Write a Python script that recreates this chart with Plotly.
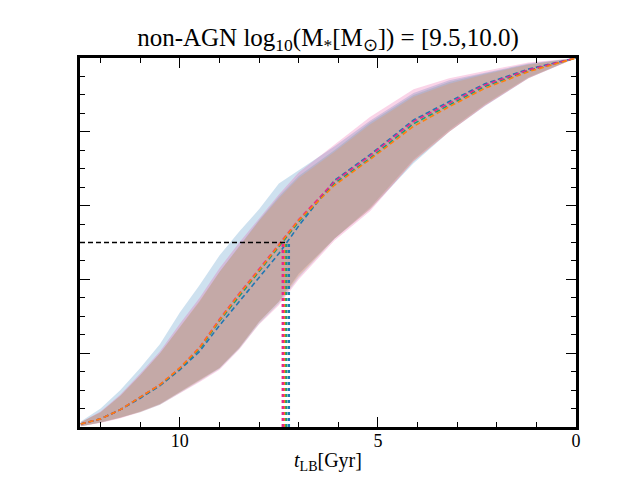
import plotly.graph_objects as go

# lookback time grid [Gyr]
t_lb = [12.5, 12.0, 11.5, 11.0, 10.5, 10.0, 9.5, 9.0, 8.5, 8.0, 7.5, 7.0, 6.1, 5.2, 4.1, 3.2, 2.3, 1.2, 0.0]

# median cumulative mass fraction per sample
med_blue = [0.008, 0.022, 0.047, 0.078, 0.112, 0.155, 0.205, 0.275, 0.34, 0.405, 0.47, 0.545, 0.668, 0.738, 0.832, 0.882, 0.93, 0.97, 1.0]
med_teal = [0.008, 0.022, 0.047, 0.08, 0.114, 0.158, 0.212, 0.287, 0.355, 0.42, 0.488, 0.556, 0.66, 0.728, 0.822, 0.873, 0.923, 0.966, 1.0]
med_pink = [0.008, 0.022, 0.047, 0.08, 0.115, 0.16, 0.216, 0.292, 0.362, 0.428, 0.495, 0.562, 0.665, 0.735, 0.828, 0.878, 0.927, 0.968, 1.0]
med_orange = [0.008, 0.022, 0.047, 0.08, 0.115, 0.16, 0.215, 0.29, 0.36, 0.425, 0.492, 0.56, 0.655, 0.725, 0.815, 0.868, 0.918, 0.963, 1.0]

# 16th / 84th percentile envelopes
hi_blue = [0.015, 0.05, 0.1, 0.16, 0.225, 0.31, 0.385, 0.465, 0.53, 0.59, 0.66, 0.695, 0.76, 0.83, 0.905, 0.94, 0.96, 0.985, 1.0]
lo_blue = [0.002, 0.012, 0.025, 0.042, 0.062, 0.095, 0.128, 0.16, 0.215, 0.285, 0.34, 0.415, 0.51, 0.59, 0.715, 0.8, 0.87, 0.945, 1.0]
hi_teal = [0.013, 0.04, 0.085, 0.14, 0.2, 0.27, 0.34, 0.42, 0.49, 0.56, 0.625, 0.68, 0.75, 0.825, 0.9, 0.935, 0.958, 0.983, 1.0]
lo_teal = [0.002, 0.012, 0.025, 0.04, 0.06, 0.092, 0.125, 0.158, 0.212, 0.28, 0.335, 0.405, 0.51, 0.595, 0.725, 0.805, 0.875, 0.948, 1.0]
hi_pink = [0.013, 0.042, 0.088, 0.145, 0.205, 0.28, 0.35, 0.43, 0.5, 0.565, 0.63, 0.69, 0.765, 0.84, 0.915, 0.945, 0.965, 0.988, 1.0]
lo_pink = [0.002, 0.011, 0.024, 0.04, 0.06, 0.09, 0.122, 0.155, 0.21, 0.278, 0.33, 0.4, 0.505, 0.585, 0.72, 0.8, 0.87, 0.945, 1.0]
hi_orange = [0.013, 0.04, 0.085, 0.14, 0.2, 0.272, 0.342, 0.42, 0.49, 0.558, 0.62, 0.675, 0.745, 0.82, 0.895, 0.93, 0.955, 0.982, 1.0]
lo_orange = [0.002, 0.012, 0.025, 0.041, 0.062, 0.094, 0.127, 0.16, 0.215, 0.285, 0.34, 0.41, 0.51, 0.59, 0.72, 0.8, 0.872, 0.946, 1.0]

# half-mass formation times [Gyr]
t50 = {"blue": 7.25, "teal": 7.32, "orange": 7.37, "pink": 7.40}
t50_line = 7.3

colors = {
    "blue": ("#1f77b4", "rgba(31,119,180,0.22)"),
    "teal": ("#1b9e77", "rgba(27,158,119,0.18)"),
    "pink": ("#e7298a", "rgba(231,41,138,0.2)"),
    "orange": ("#ff7f0e", "rgba(255,127,14,0.18)"),
}
series = [
    ("blue", med_blue, lo_blue, hi_blue),
    ("teal", med_teal, lo_teal, hi_teal),
    ("pink", med_pink, lo_pink, hi_pink),
    ("orange", med_orange, lo_orange, hi_orange),
]

fig = go.Figure()

# shaded bands
for name, med, lo, hi in series:
    line_c, fill_c = colors[name]
    fig.add_trace(go.Scatter(x=t_lb + t_lb[::-1], y=hi + lo[::-1], fill="toself",
                             fillcolor=fill_c, line=dict(width=0), mode="lines",
                             hoverinfo="skip", showlegend=False))

# median curves
for name, med, lo, hi in series:
    line_c, fill_c = colors[name]
    fig.add_trace(go.Scatter(x=t_lb, y=med, mode="lines",
                             line=dict(color=line_c, width=1.6, dash="5px,3px"),
                             showlegend=False))

# vertical lines at t50
for name in ["blue", "teal", "orange", "pink"]:
    fig.add_trace(go.Scatter(x=[t50[name], t50[name]], y=[0, 0.5], mode="lines",
                             line=dict(color=colors[name][0], width=2.5, dash="3px,3px"),
                             showlegend=False))

# horizontal line at half mass
fig.add_trace(go.Scatter(x=[12.52, t50_line], y=[0.5, 0.5], mode="lines",
                         line=dict(color="black", width=1.6, dash="5px,3px"),
                         showlegend=False))

serif = '"Liberation Serif", "Times New Roman", serif'
fig.update_layout(
    width=640, height=480,
    paper_bgcolor="white", plot_bgcolor="white",
    margin=dict(l=72, r=72, t=50, b=61),
    font=dict(family=serif, color="black", size=18),
    title=dict(text="non-AGN log<sub>10</sub>(M<sub>*</sub>[M<sub>⊙</sub>]) = [9.5,10.0)",
               x=0.5, xanchor="center", y=0.94, yanchor="middle",
               font=dict(family=serif, size=25)),
    xaxis=dict(range=[12.52, 0], tickvals=[10, 5, 0], ticks="inside", ticklen=10,
               tickwidth=1, tickcolor="black", showline=True, linecolor="black",
               linewidth=2.5, mirror="allticks", showgrid=False, zeroline=False,
               ticklabelstandoff=-4,
               minor=dict(dtick=1, ticks="inside", ticklen=5, tickcolor="black", showgrid=False),
               title=dict(text="<i>t</i><sub>LB</sub>[Gyr]", font=dict(family=serif, size=20), standoff=3),
               tickfont=dict(family=serif, size=18)),
    yaxis=dict(range=[0, 1], dtick=0.2, ticks="inside", ticklen=10, tickwidth=1,
               tickcolor="black", showline=True, linecolor="black", linewidth=2.5,
               mirror="allticks", showgrid=False, zeroline=False, showticklabels=False,
               minor=dict(dtick=0.05, ticks="inside", ticklen=5, tickcolor="black", showgrid=False)),
)

fig.write_html("out.html")
